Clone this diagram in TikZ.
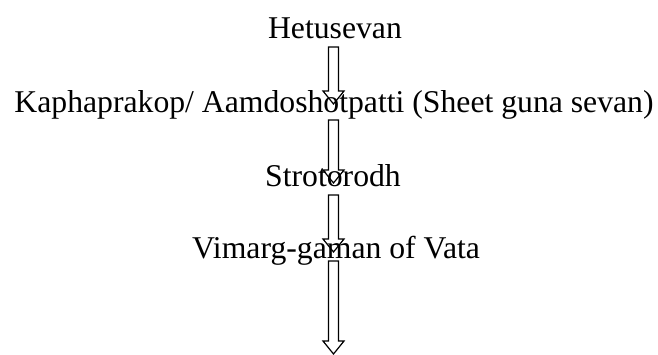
\documentclass[tikz,border=0pt]{standalone}
\usepackage{fontspec}
\setmainfont{Liberation Serif}
\usetikzlibrary{calc}
\tikzset{
  lbl/.style={anchor=base, inner sep=0pt, font=\fontsize{31.7}{38}\selectfont},
  arrowline/.style={draw=black, line width=1.2pt, line join=miter}
}
\newcommand\hollowarrow[2]{%
  \draw[arrowline] ($(#1)+(-5pt,0)$) -- ($(#2)+(-5pt,13pt)$) -- ($(#2)+(-10.5pt,13pt)$) -- (#2)
    -- ($(#2)+(10.5pt,13pt)$) -- ($(#2)+(5pt,13pt)$) -- ($(#1)+(5pt,0)$) -- cycle;}
\begin{document}
\begin{tikzpicture}[x=1pt,y=1pt]
\useasboundingbox (0,0) rectangle (658,-354);
\node[lbl] (n1) at (335,-38) {Hetusevan};
\node[lbl] (n2) at (334,-112) {Kaphaprakop/ Aamdoshotpatti (Sheet guna sevan)};
\node[lbl] (n3) at (333,-186) {Strotorodh};
\node[lbl] (n4) at (336,-258) {Vimarg-gaman of Vata};
\coordinate (a1s) at (333.5,-47);  \coordinate (a1e) at (333.5,-104);
\coordinate (a2s) at (333.5,-120); \coordinate (a2e) at (333.5,-183);
\coordinate (a3s) at (333.5,-195); \coordinate (a3e) at (333.5,-252);
\coordinate (a4s) at (333.5,-261); \coordinate (a4e) at (333.5,-354);
\hollowarrow{a1s}{a1e}
\hollowarrow{a2s}{a2e}
\hollowarrow{a3s}{a3e}
\hollowarrow{a4s}{a4e}
\end{tikzpicture}
\end{document}
